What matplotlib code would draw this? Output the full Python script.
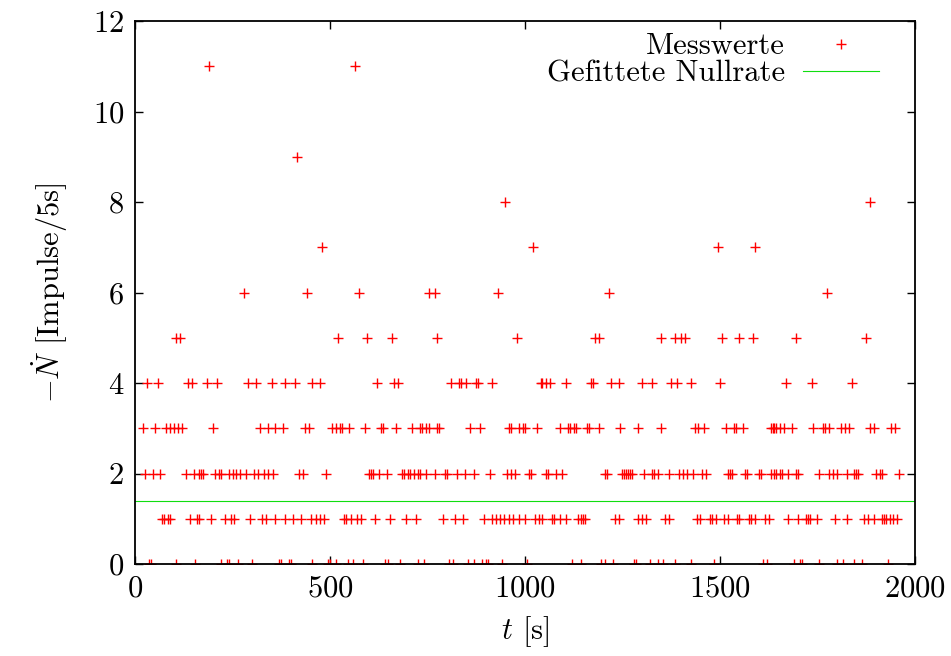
import numpy as np
import matplotlib
matplotlib.use("Agg")
import matplotlib.pyplot as plt

plt.rcParams["font.family"] = "serif"
plt.rcParams["font.serif"] = ["cmr10", "DejaVu Serif"]
plt.rcParams["mathtext.fontset"] = "cm"
plt.rcParams["axes.unicode_minus"] = False
plt.rcParams["axes.formatter.use_mathtext"] = True

# Zeitpunkte t [s] der Messwerte, sortiert nach gezaehlten Impulsen pro 5 s
t_n0 = [35, 40, 105, 155, 220, 235, 240, 265, 300, 370, 375, 395, 400, 455,
        495, 500, 515, 545, 560, 585, 640, 650, 680, 725, 740, 805, 815, 855,
        870, 890, 900, 905, 940, 1005, 1120, 1145, 1195, 1205, 1225, 1280,
        1285, 1320, 1340, 1355, 1385, 1425, 1485, 1610, 1620, 1690, 1705,
        1710, 1755, 1800, 1815, 1845, 1865, 1930]
t_n1 = [70, 75, 85, 90, 140, 160, 165, 195, 230, 245, 255, 295, 325, 335,
        360, 385, 405, 425, 450, 465, 475, 485, 535, 540, 555, 570, 580, 615,
        655, 695, 720, 790, 820, 840, 895, 915, 925, 935, 945, 960, 970, 985,
        1000, 1025, 1035, 1045, 1070, 1075, 1090, 1105, 1135, 1145, 1150,
        1155, 1230, 1240, 1290, 1300, 1310, 1360, 1370, 1440, 1450, 1475,
        1480, 1490, 1510, 1520, 1545, 1550, 1575, 1580, 1590, 1615, 1625,
        1675, 1700, 1720, 1725, 1730, 1750, 1795, 1825, 1870, 1880, 1895,
        1915, 1920, 1925, 1935, 1945, 1955]
t_n2 = [25, 45, 65, 130, 150, 165, 170, 175, 205, 215, 220, 240, 250, 260,
        270, 285, 305, 315, 330, 340, 355, 420, 430, 490, 600, 605, 610, 625,
        645, 685, 690, 700, 705, 715, 725, 730, 745, 770, 795, 800, 825, 845,
        870, 910, 955, 965, 975, 1010, 1015, 1055, 1060, 1080, 1095, 1205,
        1210, 1250, 1255, 1260, 1265, 1270, 1275, 1305, 1325, 1330, 1340,
        1370, 1395, 1405, 1415, 1430, 1455, 1465, 1520, 1525, 1530, 1565,
        1570, 1600, 1605, 1630, 1640, 1645, 1655, 1660, 1675, 1695, 1700,
        1755, 1780, 1790, 1800, 1825, 1845, 1850, 1855, 1900, 1910, 1915,
        1960]
t_n3 = [20, 50, 80, 90, 100, 110, 120, 200, 320, 340, 360, 380, 435, 445,
        505, 515, 525, 530, 550, 590, 630, 635, 670, 710, 730, 735, 745, 755,
        775, 780, 860, 885, 960, 965, 985, 995, 1000, 1030, 1090, 1110, 1115,
        1125, 1130, 1160, 1165, 1190, 1245, 1290, 1350, 1435, 1445, 1460,
        1515, 1535, 1540, 1560, 1630, 1635, 1640, 1645, 1655, 1665, 1685,
        1740, 1765, 1770, 1780, 1810, 1820, 1830, 1885, 1895, 1940, 1950]
t_n4 = [30, 60, 135, 145, 185, 210, 290, 310, 350, 385, 410, 455, 475, 620,
        665, 675, 810, 830, 835, 850, 875, 880, 915, 1040, 1045, 1055, 1065,
        1105, 1170, 1175, 1220, 1240, 1300, 1325, 1375, 1390, 1425, 1500,
        1670, 1735, 1840]
t_n5 = [105, 115, 520, 595, 660, 775, 980, 1180, 1190, 1350, 1385, 1400,
        1410, 1505, 1550, 1585, 1695, 1875]
t_n6 = [280, 440, 575, 755, 770, 930, 1215, 1775]
t_n7 = [480, 1020, 1495, 1590]
t_n8 = [950, 1885]
t_n9 = [415]
t_n11 = [190, 565]

# gefittete Nullrate (Impulse/5s)
nullrate = 1.4

levels = {0: t_n0, 1: t_n1, 2: t_n2, 3: t_n3, 4: t_n4, 5: t_n5,
          6: t_n6, 7: t_n7, 8: t_n8, 9: t_n9, 11: t_n11}
t = np.concatenate([np.asarray(v, float) for v in levels.values()])
n = np.concatenate([np.full(len(v), k, float) for k, v in levels.items()])

fig = plt.figure(figsize=(9.51, 6.56), dpi=100)
ax = fig.add_axes([0.142, 0.140, 0.820, 0.828])

ax.plot(t, n, ls="none", marker="+", ms=7, mew=1.0, color="red",
        label="Messwerte")
ax.axhline(nullrate, color="#10dd10", lw=0.8, label="Gefittete Nullrate")

ax.set_xlim(0, 2000)
ax.set_ylim(0, 12)
ax.set_xticks([0, 500, 1000, 1500, 2000])
ax.set_yticks(np.arange(0, 13, 2))
ax.tick_params(direction="in", length=6, width=1, top=True, right=True,
               labelsize=22, pad=8)
for s in ax.spines.values():
    s.set_linewidth(1.3)

ax.set_xlabel(r"$t$ [s]", fontsize=22, labelpad=8)
ax.set_ylabel(r"$-\dot{N}$ [Impulse/5s]", fontsize=22, labelpad=16)

leg = ax.legend(loc="upper right", bbox_to_anchor=(0.978, 1.012),
                frameon=False, markerfirst=False, fontsize=22,
                handlelength=2.5, handletextpad=0.6, labelspacing=0.0,
                borderaxespad=0.2)

fig.savefig("out.png", dpi=100)
